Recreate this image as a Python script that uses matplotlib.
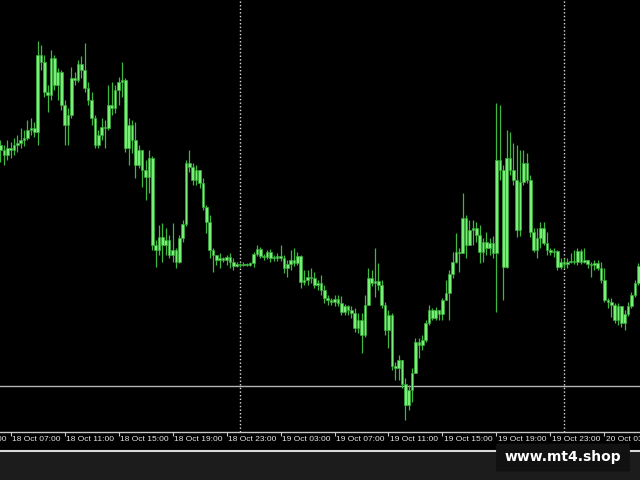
import numpy as np
import pandas as pd
import matplotlib
matplotlib.use("Agg")
import matplotlib.pyplot as plt
import matplotlib.dates as mdates
from matplotlib.patches import Rectangle, FancyBboxPatch
from matplotlib.lines import Line2D

# M15 candles, 18 Oct 06:15 onwards (price in points)
first_open = 287
close = [282, 277, 284, 282, 287, 289, 292, 294, 302, 304, 300, 377, 370, 340, 337, 374, 347, 360, 327, 307,
         317, 354, 352, 368, 362, 344, 332, 314, 287, 297, 305, 304, 327, 324, 342, 350, 352, 284, 307, 292,
         267, 282, 262, 255, 274, 187, 182, 195, 187, 192, 177, 182, 170, 194, 208, 269, 265, 252, 262, 249,
         225, 210, 182, 177, 172, 174, 172, 175, 170, 166, 168, 167, 168, 167, 169, 178, 183, 176, 175, 180,
         174, 174, 176, 174, 164, 168, 172, 169, 176, 150, 152, 155, 154, 147, 149, 142, 134, 132, 130, 133,
         129, 120, 126, 122, 119, 104, 112, 97, 127, 154, 149, 151, 147, 127, 102, 117, 66, 64, 72, 48,
         27, 42, 59, 90, 87, 92, 109, 122, 114, 122, 118, 132, 139, 158, 170, 180, 179, 214, 187, 202,
         204, 197, 180, 190, 184, 189, 179, 272, 262, 165, 274, 262, 252, 202, 250, 269, 252, 200, 182, 194,
         204, 189, 182, 180, 181, 165, 170, 168, 170, 171, 170, 181, 170, 172, 168, 167, 169, 164, 152, 132,
         130, 127, 112, 126, 109, 118, 126, 137, 149, 166]
high = [292, 287, 292, 290, 294, 297, 304, 302, 312, 314, 310, 391, 387, 377, 347, 382, 377, 364, 362, 332,
        324, 365, 360, 372, 376, 389, 350, 340, 317, 302, 314, 312, 347, 350, 347, 355, 370, 354, 314, 312,
        310, 287, 277, 272, 282, 276, 192, 207, 209, 204, 197, 209, 184, 197, 212, 272, 282, 269, 267, 262,
        254, 227, 217, 184, 177, 179, 175, 177, 179, 174, 170, 169, 170, 169, 170, 180, 187, 185, 178, 182,
        183, 177, 179, 187, 177, 172, 182, 184, 180, 177, 162, 162, 164, 160, 152, 157, 147, 137, 134, 137,
        137, 136, 128, 127, 126, 124, 119, 119, 137, 164, 162, 184, 169, 152, 130, 122, 119, 70, 77, 72,
        54, 47, 64, 94, 94, 97, 112, 127, 124, 125, 122, 134, 152, 162, 180, 199, 184, 239, 217, 212,
        212, 210, 207, 194, 200, 194, 196, 329, 327, 267, 302, 300, 289, 287, 282, 282, 279, 257, 204, 204,
        210, 210, 200, 184, 184, 182, 174, 174, 174, 179, 182, 184, 183, 184, 172, 170, 172, 172, 170, 164,
        134, 134, 129, 129, 119, 122, 130, 140, 152, 169]
low = [270, 267, 272, 274, 277, 280, 284, 286, 292, 297, 295, 287, 362, 335, 320, 332, 342, 332, 322, 287,
       287, 314, 347, 350, 354, 340, 327, 307, 284, 284, 292, 284, 302, 317, 319, 327, 335, 280, 267, 279,
       254, 264, 245, 232, 239, 182, 165, 177, 170, 177, 174, 170, 164, 169, 190, 206, 260, 247, 247, 244,
       222, 199, 174, 160, 167, 164, 170, 167, 164, 162, 165, 165, 166, 166, 166, 165, 176, 174, 172, 173,
       170, 171, 171, 171, 159, 155, 162, 166, 167, 144, 147, 147, 149, 144, 142, 137, 129, 127, 127, 126,
       126, 117, 117, 117, 114, 100, 99, 79, 95, 127, 146, 135, 142, 124, 97, 84, 62, 52, 52, 44,
       12, 22, 30, 60, 74, 82, 90, 107, 112, 112, 112, 112, 132, 112, 154, 169, 160, 180, 174, 192,
       187, 190, 169, 170, 177, 177, 174, 120, 252, 132, 164, 257, 247, 195, 196, 247, 249, 195, 180, 174,
       184, 187, 177, 177, 175, 162, 163, 164, 164, 169, 168, 167, 168, 169, 164, 155, 162, 162, 149, 130,
       124, 115, 109, 107, 105, 102, 116, 124, 135, 147]
level_line = 46

times = pd.date_range("2023-10-18 06:15", periods=len(close), freq="15min")
tick_times = pd.date_range("2023-10-18 03:00", "2023-10-20 03:00", freq="4h")
day_breaks = pd.to_datetime(["2023-10-19 00:00", "2023-10-20 00:00"])

close = np.array(close, dtype=float)
opn = np.concatenate([[first_open], close[:-1]])
high = np.maximum(np.array(high, dtype=float), np.maximum(opn, close))
low = np.minimum(np.array(low, dtype=float), np.minimum(opn, close))
x = mdates.date2num(times)

fig = plt.figure(figsize=(6.4, 4.8), dpi=100, facecolor="#1c1c1c")
fig.add_artist(Rectangle((0, 29 / 480), 1, 1, transform=fig.transFigure, facecolor="black", edgecolor="none", zorder=0))
ax = fig.add_axes([0, 48 / 480, 1, 432 / 480])
ax.set_facecolor("black")

bar_w = 0.25 / 24
ax.vlines(x, low, high, color="#3fb83f", lw=0.9, zorder=3)
body_lo = np.minimum(opn, close)
body_h = np.maximum(np.abs(close - opn), 1.0)
ax.bar(x, body_h, bottom=body_lo, width=bar_w * 0.78, color="#78f078", edgecolor="#35a835", lw=0.5, zorder=4)

ax.axhline(level_line, color="#b4b4b4", lw=1, zorder=2)
for d in day_breaks:
    ax.axvline(mdates.date2num(d), color="#dcdcdc", lw=1, ls=(0, (1, 1.6)), zorder=2)

ax.set_xticks(mdates.date2num(tick_times))
ax.set_yticks([])
ax.set_xlim(mdates.date2num(pd.Timestamp("2023-10-18 06:13")), mdates.date2num(pd.Timestamp("2023-10-20 05:38")))
ax.set_ylim(0, 432)
ax.tick_params(axis="x", direction="out", length=3, width=0.8, color="#c8c8c8", labelbottom=False)
for s in ["top", "left", "right"]:
    ax.spines[s].set_visible(False)
ax.spines["bottom"].set_color("#c8c8c8")
ax.spines["bottom"].set_linewidth(1)

for t in tick_times:
    ax.annotate(t.strftime("%d %b %H:%M"), xy=(mdates.date2num(t), 0), xycoords=("data", "axes fraction"),
                xytext=(1.2, -3.2), textcoords="offset points", ha="left", va="top",
                fontsize=6, family="Liberation Sans", color="#e6e6e6", annotation_clip=False)

fig.add_artist(Line2D([0, 1], [29 / 480, 29 / 480], transform=fig.transFigure, color="#d8d8d8", lw=1.5, zorder=5))
fig.add_artist(FancyBboxPatch((498 / 640, 10 / 480), 130 / 640, 25 / 480, boxstyle="round,pad=0.003",
                              transform=fig.transFigure, facecolor="#111111", edgecolor="none", zorder=6))
fig.text(563 / 640, 23 / 480, "www.mt4.shop", ha="center", va="center", fontsize=10, fontweight="bold",
         color="white", family="DejaVu Sans", zorder=7)

fig.savefig("out.png", dpi=100, facecolor=fig.get_facecolor())
plt.close(fig)
